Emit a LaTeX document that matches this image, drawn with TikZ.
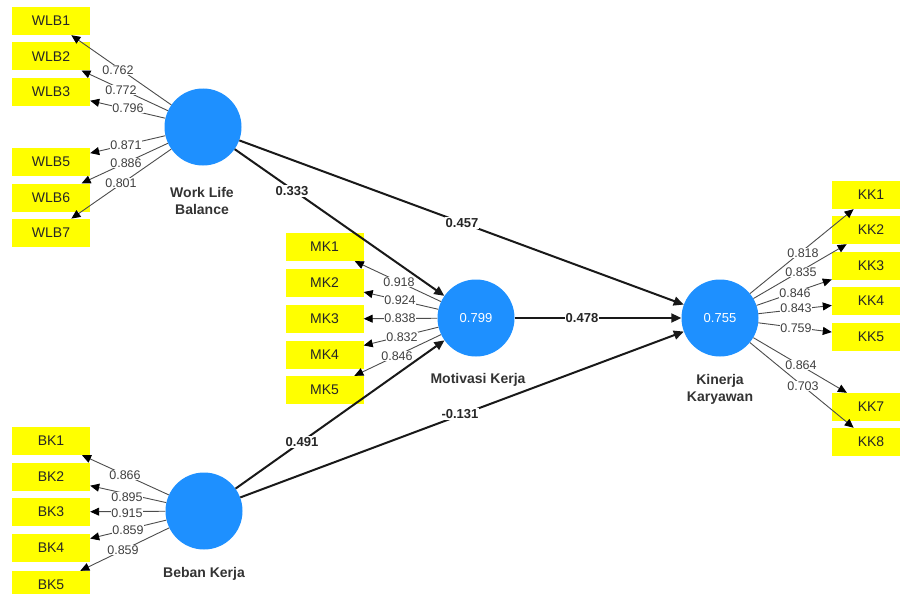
\documentclass[tikz,border=0pt]{standalone}
\usepackage{fontspec}
\setmainfont{Liberation Sans}
\usetikzlibrary{arrows.meta}
\definecolor{plsblue}{RGB}{30,144,255}
\definecolor{plsyellow}{RGB}{255,255,0}
\begin{document}
\begin{tikzpicture}[x=1pt,y=-1pt,
  ind/.style={fill=plsyellow, minimum width=78pt, minimum height=28pt, inner sep=0pt,
    font=\fontsize{14}{15}\selectfont, text=black!85},
  lv/.style={circle, fill=plsblue, minimum size=77pt, inner sep=0pt, text=white,
    font=\fontsize{13}{14}\selectfont},
  lvlab/.style={font=\bfseries\fontsize{14}{17}\selectfont, text=black!80, align=center},
  meas/.style={draw=black!70, line width=0.9pt, -{Triangle[length=9pt,width=8pt,color=black]}},
  strpath/.style={draw=black!90, line width=2pt, -{Triangle[length=10pt,width=9pt]}},
  load/.style={fill=white, inner sep=0.5pt, font=\fontsize{12.5}{13}\selectfont, text=black!75},
  coef/.style={fill=white, inner sep=1pt, font=\bfseries\fontsize{13}{14}\selectfont, text=black!85},
]
\useasboundingbox (0,0) rectangle (900,594);
\clip (0,0) rectangle (900,594);

% indicator boxes
\node[ind] (WLB1) at (51,21) {WLB1};
\node[ind] (WLB2) at (51,56.3) {WLB2};
\node[ind] (WLB3) at (51,91.6) {WLB3};
\node[ind] (WLB5) at (51,162.2) {WLB5};
\node[ind] (WLB6) at (51,197.5) {WLB6};
\node[ind] (WLB7) at (51,232.8) {WLB7};

\node[ind] (MK1) at (324.5,247) {MK1};
\node[ind] (MK2) at (324.5,283) {MK2};
\node[ind] (MK3) at (324.5,319) {MK3};
\node[ind] (MK4) at (324.5,355) {MK4};
\node[ind] (MK5) at (324.5,390) {MK5};

\node[ind] (BK1) at (51,441) {BK1};
\node[ind] (BK2) at (51,477) {BK2};
\node[ind] (BK3) at (51,512) {BK3};
\node[ind] (BK4) at (51,548) {BK4};
\node[ind] (BK5) at (51,585) {BK5};

\node[ind] (KK1) at (871,195) {KK1};
\node[ind] (KK2) at (871,230) {KK2};
\node[ind] (KK3) at (871,266) {KK3};
\node[ind] (KK4) at (871,301) {KK4};
\node[ind] (KK5) at (871,337) {KK5};
\node[ind] (KK7) at (871,407) {KK7};
\node[ind] (KK8) at (871,442) {KK8};

% latent variables
\node[lv] (WLB) at (203,127) {};
\node[lv] (MK) at (476,318) {0.799};
\node[lv] (KK) at (720,318) {0.755};
\node[lv] (BK) at (204,511) {};

\node[lvlab] (WLBlab) at (202,201) {Work Life\\Balance};
\node[lvlab] (MKlab) at (478,380) {Motivasi Kerja};
\node[lvlab] (KKlab) at (720,389) {Kinerja\\Karyawan};
\node[lvlab] (BKlab) at (204,574) {Beban Kerja};

% measurement arrows
\foreach \i in {1,2,3,5,6,7} \draw[meas] (WLB) -- (WLB\i);
\foreach \i in {1,2,3,4,5} \draw[meas] (MK) -- (MK\i);
\foreach \i in {1,2,3,4,5} \draw[meas] (BK) -- (BK\i);
\foreach \i in {1,2,3,4,5,7,8} \draw[meas] (KK) -- (KK\i);

% structural paths
\draw[strpath] (WLB) -- (MK);
\draw[strpath] (WLB) -- (KK);
\draw[strpath] (MK) -- (KK);
\draw[strpath] (BK) -- (MK);
\draw[strpath] (BK) -- (KK);

% loadings
\node[load] (l1) at (118,70) {0.762};
\node[load] (l2) at (121,90) {0.772};
\node[load] (l3) at (128,108) {0.796};
\node[load] (l5) at (126,145) {0.871};
\node[load] (l6) at (126,163) {0.886};
\node[load] (l7) at (121,183) {0.801};

\node[load] (m1) at (399,282) {0.918};
\node[load] (m2) at (400,300) {0.924};
\node[load] (m3) at (400,318) {0.838};
\node[load] (m4) at (402,337) {0.832};
\node[load] (m5) at (397,356) {0.846};

\node[load] (b1) at (125,475) {0.866};
\node[load] (b2) at (127,497) {0.895};
\node[load] (b3) at (127,513) {0.915};
\node[load] (b4) at (128,530) {0.859};
\node[load] (b5) at (123,550) {0.859};

\node[load] (k1) at (803,253) {0.818};
\node[load] (k2) at (801,272) {0.835};
\node[load] (k3) at (795,293) {0.846};
\node[load] (k4) at (796,308) {0.843};
\node[load] (k5) at (796,328) {0.759};
\node[load] (k7) at (801,365) {0.864};
\node[load] (k8) at (803,386) {0.703};

% path coefficients
\node[coef] (c1) at (292,191) {0.333};
\node[coef] (c2) at (462,223) {0.457};
\node[coef] (c3) at (582,318) {0.478};
\node[coef] (c4) at (302,442) {0.491};
\node[coef] (c5) at (460,414) {-0.131};
\end{tikzpicture}
\end{document}
